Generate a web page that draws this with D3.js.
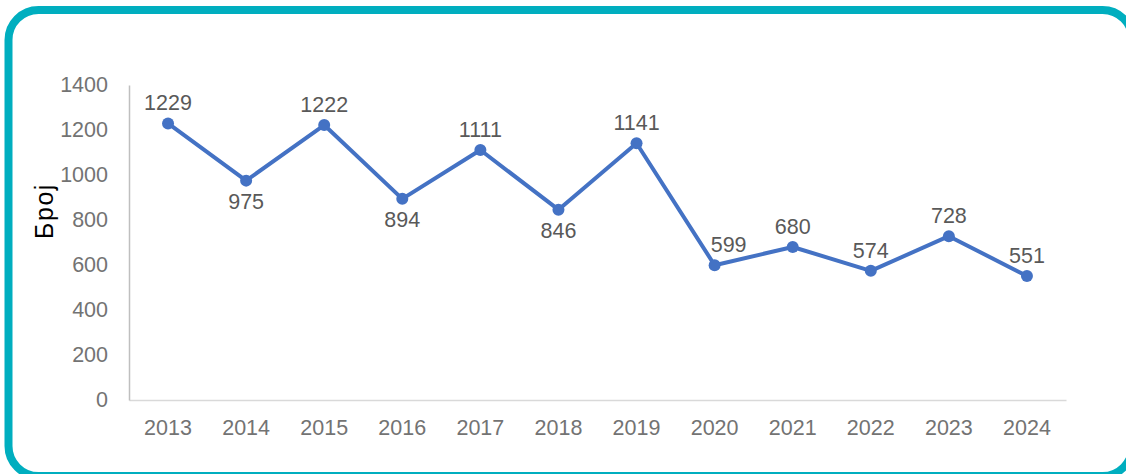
<!DOCTYPE html>
<html><head><meta charset="utf-8">
<script src="https://cdn.jsdelivr.net/npm/d3@7"></script>
<style>body{margin:0;background:#fff;} text{font-family:"Liberation Sans",Arial,sans-serif;}</style>
</head><body>
<svg id="c" width="1126" height="474"></svg>
<script>
const years = ["2013","2014","2015","2016","2017","2018","2019","2020","2021","2022","2023","2024"];
const values = [1229,975,1222,894,1111,846,1141,599,680,574,728,551];
const labelPos = ["above","below","above","below","above","below","above","above","above","above","above","above"];
const labelShift = [0,0,0,0,0,0,0,14,0,0,0,0];
const yTicks = [0,200,400,600,800,1000,1200,1400];

const svg = d3.select("#c");
svg.append("rect").attr("x",8.5).attr("y",10).attr("width",1124).attr("height",466)
  .attr("rx",30).attr("fill","#fff").attr("stroke","#00AEBF").attr("stroke-width",8);

const x = d3.scaleBand().domain(years).range([129,1066]);
const y = d3.scaleLinear().domain([0,1400]).range([400,85]);

const yAxis = svg.append("g").attr("transform","translate(129,0)")
  .call(d3.axisLeft(y).tickValues(yTicks).tickFormat(d3.format("d")).tickSize(0).tickPadding(21));
yAxis.select(".domain").attr("stroke","#bfbfbf").attr("stroke-width",1.5);
yAxis.selectAll("text").attr("fill","#737373").attr("font-size",21.5);

const xAxis = svg.append("g").attr("transform","translate(0,400)")
  .call(d3.axisBottom(x).tickSize(0).tickPadding(20));
xAxis.select(".domain").attr("stroke","#d9d9d9").attr("stroke-width",1.5);
xAxis.selectAll("text").attr("fill","#737373").attr("font-size",21.5);
yAxis.raise();

svg.append("text").attr("transform","translate(53,211) rotate(-90)")
  .attr("text-anchor","middle").attr("font-size",25).attr("letter-spacing",1.5).attr("fill","#000").text("Број");

const cx = (d,i)=>x(years[i])+x.bandwidth()/2;
const line = d3.line().x((d,i)=>cx(d,i)).y(d=>y(d));
svg.append("path").datum(values).attr("d",line).attr("fill","none")
  .attr("stroke","#4472C4").attr("stroke-width",4).attr("stroke-linejoin","round");
svg.selectAll("circle.pt").data(values).enter().append("circle")
  .attr("cx",cx).attr("cy",d=>y(d)).attr("r",6).attr("fill","#4472C4");
svg.selectAll("text.lbl").data(values).enter().append("text")
  .attr("x",(d,i)=>cx(d,i)+labelShift[i]).attr("y",(d,i)=>labelPos[i]==="above"? y(d)-13 : y(d)+28)
  .attr("text-anchor","middle").attr("font-size",21.5).attr("fill","#595959").text(d=>d);
</script>
</body></html>
